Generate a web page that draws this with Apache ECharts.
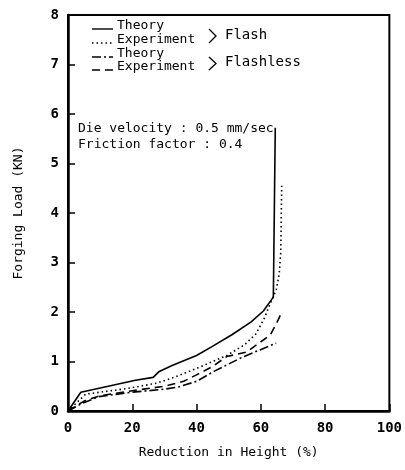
<!DOCTYPE html>
<html>
<head>
<meta charset="utf-8">
<script src="https://cdn.jsdelivr.net/npm/echarts@6/dist/echarts.min.js"></script>
<style>
  html, body { margin: 0; padding: 0; background: #fff; }
  #chart { width: 405px; height: 470px; }
</style>
</head>
<body>
<div id="chart"></div>
<script>
// tick labels
const xTicks = [0, 20, 40, 60, 80, 100];
const yTicks = [0, 1, 2, 3, 4, 5, 6, 7, 8];

// legend rows
const legendNames = ['Theory', 'Experiment', 'Theory', 'Experiment'];
const groupNames = ['Flash', 'Flashless'];

// [reduction in height %, forging load kN]
const flashTheory = [
  [0, 0], [4, 0.38], [21, 0.62], [26.5, 0.68], [28.4, 0.8], [32.4, 0.92],
  [40, 1.12], [44.8, 1.3], [51, 1.54], [57, 1.8], [60.8, 2.02], [63.9, 2.3], [64.5, 5.72]
];
const flashExperiment = [
  [0, 0], [5.5, 0.34], [18, 0.45], [27.5, 0.56], [33, 0.68], [40, 0.86],
  [49.4, 1.12], [55, 1.34], [58.5, 1.56], [61, 1.86], [63, 2.18], [64.8, 2.45],
  [65.7, 2.75], [66.2, 3.2], [66.5, 4.55]
];
const flashlessTheory = [
  [0, 0], [4.6, 0.16], [9.6, 0.29], [20, 0.38], [30, 0.44], [34.6, 0.49],
  [40, 0.6], [45.4, 0.8], [54, 1.08], [57.7, 1.18], [64.8, 1.37]
];
const flashlessExperiment = [
  [0, 0], [5, 0.2], [10, 0.31], [20, 0.41], [30, 0.5], [36, 0.6],
  [40, 0.73], [45, 0.9], [49.4, 1.1], [55.6, 1.19], [63, 1.54], [65.4, 1.84], [66.4, 1.98]
];

const font = '"DejaVu Sans Mono", monospace';
const dashes = ['solid', [1.5, 3], [9, 3, 2, 3], [8, 5]];
const chart = echarts.init(document.getElementById('chart'));

function line(name, data, type) {
  return {
    name: name,
    type: 'line',
    data: data,
    showSymbol: false,
    symbol: 'none',
    lineStyle: { color: '#000', width: 1.6, type: type },
    animation: false
  };
}

// hand-drawn legend
const legendY = [28, 42, 56, 69];
const graphic = [];
legendNames.forEach((n, i) => {
  graphic.push({
    type: 'line', shape: { x1: 92, y1: legendY[i] + 1, x2: 113, y2: legendY[i] + 1 },
    style: { stroke: '#000', lineWidth: 1.4, lineDash: dashes[i] === 'solid' ? null : dashes[i] }
  });
  graphic.push({
    type: 'text', x: 117, y: legendY[i] - 2,
    style: { text: n, fontFamily: font, fontSize: 13, fill: '#000', verticalAlign: 'middle' }
  });
});
groupNames.forEach((g, i) => {
  const y1 = legendY[i * 2] + 1, y2 = legendY[i * 2 + 1] + 1;
  graphic.push({
    type: 'polyline', shape: { points: [[209, y1], [216, (y1 + y2) / 2], [209, y2]] },
    style: { stroke: '#000', lineWidth: 1.3, fill: null }
  });
  graphic.push({
    type: 'text', x: 225, y: (y1 + y2) / 2 - 1,
    style: { text: g, fontFamily: font, fontSize: 14, fill: '#000', verticalAlign: 'middle' }
  });
});
graphic.push({
  type: 'text', x: 78, y: 121,
  style: { text: 'Die velocity : 0.5 mm/sec\nFriction factor : 0.4',
    fontFamily: font, fontSize: 13, lineHeight: 16, fill: '#000' }
});

chart.setOption({
  animation: false,
  grid: {
    left: 68, right: 13, top: 15, bottom: 59,
    show: true, borderColor: '#000', borderWidth: 2
  },
  xAxis: {
    type: 'value', min: 0, max: 100, interval: 20,
    name: 'Reduction in Height (%)', nameLocation: 'middle', nameGap: 35,
    nameTextStyle: { fontFamily: font, fontSize: 13, color: '#000' },
    axisLine: { lineStyle: { color: '#000', width: 2.5 } },
    axisTick: { inside: true, length: 7, lineStyle: { color: '#000', width: 1.5 } },
    axisLabel: { fontFamily: font, fontSize: 14, fontWeight: 'bold', color: '#000', margin: 10,
      formatter: v => xTicks.includes(v) ? String(v) : '' },
    splitLine: { show: false }
  },
  yAxis: {
    type: 'value', min: 0, max: 8, interval: 1,
    name: 'Forging Load (KN)', nameLocation: 'middle', nameGap: 43,
    nameTextStyle: { fontFamily: font, fontSize: 13, color: '#000' },
    axisLine: { show: true, lineStyle: { color: '#000', width: 2.5 } },
    axisTick: { show: true, inside: true, length: 7, lineStyle: { color: '#000', width: 1.5 } },
    axisLabel: { fontFamily: font, fontSize: 14, fontWeight: 'bold', color: '#000', margin: 9,
      formatter: v => yTicks.includes(v) ? String(v) : '' },
    splitLine: { show: false }
  },
  graphic: graphic,
  series: [
    line('Theory Flash', flashTheory, dashes[0]),
    line('Experiment Flash', flashExperiment, dashes[1]),
    line('Theory Flashless', flashlessTheory, dashes[2]),
    line('Experiment Flashless', flashlessExperiment, dashes[3])
  ]
});
</script>
</body>
</html>
